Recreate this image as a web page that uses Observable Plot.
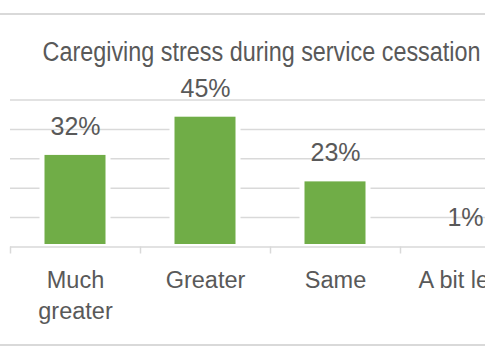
<!DOCTYPE html>
<html><head><meta charset="utf-8">
<script src="https://cdn.jsdelivr.net/npm/d3@7"></script>
<script src="https://cdn.jsdelivr.net/npm/@observablehq/plot@0.6"></script>
<style>
html,body{margin:0;padding:0;background:#fff;overflow:hidden;width:485px;height:360px;}
#wrap{position:relative;width:485px;height:360px;overflow:hidden;}
#border{position:absolute;left:-20px;width:580px;top:13px;height:329px;border-top:2px solid #d9d9d9;border-bottom:2px solid #d9d9d9;}
#chart{position:absolute;left:0;top:0;width:540px;}
#chart svg{max-width:none !important;}
</style></head><body>
<div id="wrap"><div id="border"></div><div id="chart"></div></div>
<script>
const title = "Caregiving stress during service cessation";
const categories = ["Much\ngreater", "Greater", "Same", "A bit less"];
const values = [0.32, 0.45, 0.23, 0.01];
const labels = ["32%", "45%", "23%", "1%"];
const yTicks = [0, 0.1, 0.2, 0.3, 0.4, 0.5];
const data = categories.map((c, i) => ({category: c, value: values[i], label: labels[i]}));
const chart = Plot.plot({
  width: 540, height: 360,
  marginLeft: 10, marginRight: 10, marginTop: 99.5, marginBottom: 113.5,
  style: {background: "transparent", color: "#595959", fontFamily: "'Liberation Sans', Arial, sans-serif", overflow: "visible", maxWidth: "none"},
  x: {domain: categories, padding: 0, axis: null, label: null},
  y: {domain: [0, 0.5], axis: null, label: null},
  marks: [
    Plot.ruleY(yTicks.slice(1), {stroke: "#d9d9d9", strokeWidth: 1.5}),
    Plot.barY(data, {x: "category", y: "value", fill: "#70ad47", stroke: "white", strokeWidth: 5, insetLeft: 32, insetRight: 32}),
    Plot.ruleY([0], {stroke: "#d9d9d9", strokeWidth: 1.5}),
    Plot.axisX({tickSize: 7, tickFormat: () => "", label: null, dx: -65, stroke: "#d9d9d9", strokeWidth: 1.5}),
    Plot.axisX({tickSize: 0, tickPadding: 19, label: null, fontSize: 23.5, lineHeight: 1.32, fill: "#595959"}),
    Plot.text(data, {x: "category", y: "value", text: "label", lineAnchor: "bottom", dy: -18, fontSize: 25, fill: "#595959"}),
    Plot.text([title], {frameAnchor: "top", lineAnchor: "bottom", dy: -39.5, dx: -9, fontSize: 27, fill: "#595959"})
  ]
});
d3.select(chart).selectAll("text")
  .filter(function () { return this.textContent === title; })
  .attr("textLength", 438)
  .attr("lengthAdjust", "spacingAndGlyphs");
document.getElementById("chart").appendChild(chart);
</script>
</body></html>
